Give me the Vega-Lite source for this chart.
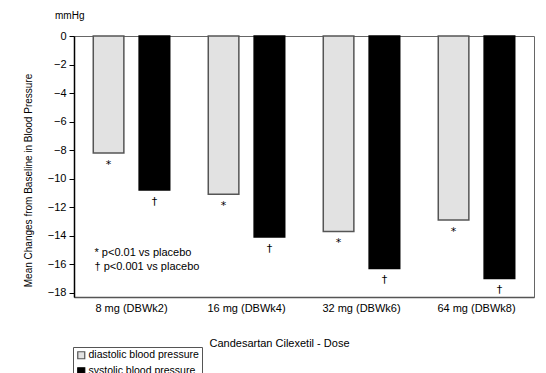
{
  "$schema": "https://vega.github.io/schema/vega-lite/v6.json",
  "width": 460,
  "height": 261,
  "autosize": {"type": "none"},
  "padding": {"left": 74, "top": 36, "right": 12, "bottom": 76},
  "background": "white",
  "config": {
    "font": "Liberation Sans",
    "view": {"stroke": "#666", "strokeWidth": 1}
  },
  "title": {
    "text": "mmHg",
    "anchor": "start",
    "frame": "group",
    "fontSize": 10,
    "fontWeight": "normal",
    "color": "#000",
    "dx": -19,
    "offset": 9
  },
  "datasets": {
    "bars": [
      {"dose": "8 mg (DBWk2)", "bp": "diastolic blood pressure", "value": -8.2, "sig": "*"},
      {"dose": "8 mg (DBWk2)", "bp": "systolic blood pressure", "value": -10.8, "sig": "†"},
      {"dose": "16 mg (DBWk4)", "bp": "diastolic blood pressure", "value": -11.1, "sig": "*"},
      {"dose": "16 mg (DBWk4)", "bp": "systolic blood pressure", "value": -14.1, "sig": "†"},
      {"dose": "32 mg (DBWk6)", "bp": "diastolic blood pressure", "value": -13.7, "sig": "*"},
      {"dose": "32 mg (DBWk6)", "bp": "systolic blood pressure", "value": -16.3, "sig": "†"},
      {"dose": "64 mg (DBWk8)", "bp": "diastolic blood pressure", "value": -12.9, "sig": "*"},
      {"dose": "64 mg (DBWk8)", "bp": "systolic blood pressure", "value": -17.0, "sig": "†"}
    ],
    "notes": [
      {"dose": "8 mg (DBWk2)", "value": -15.2, "note": "* p<0.01 vs placebo"},
      {"dose": "8 mg (DBWk2)", "value": -16.2, "note": "† p<0.001 vs placebo"}
    ]
  },
  "encoding": {
    "x": {
      "field": "dose", "type": "nominal", "sort": null,
      "scale": {"paddingInner": 0, "paddingOuter": 0},
      "axis": {
        "title": "Candesartan Cilexetil - Dose",
        "labelAngle": 0, "labelFontSize": 11, "labelColor": "#000",
        "labelPadding": 5, "ticks": false,
        "domainColor": "#555", "domainWidth": 1.5,
        "titleFontSize": 11, "titleFontWeight": "normal", "titleColor": "#000",
        "titlePadding": 24, "titleX": 205
      }
    },
    "y": {
      "field": "value", "type": "quantitative",
      "scale": {"domain": [-18.3, 0], "nice": false, "zero": false},
      "axis": {
        "title": "Mean Changes from Baseline in Blood Pressure",
        "values": [-18, -16, -14, -12, -10, -8, -6, -4, -2, 0],
        "labelOverlap": false,
        "grid": false, "labelFontSize": 11, "labelColor": "#000",
        "tickColor": "#000", "tickSize": 5, "labelPadding": 3,
        "domainColor": "#000", "domainWidth": 1.5,
        "titleFontSize": 10, "titleFontWeight": "normal", "titleColor": "#000",
        "titleX": -41, "titleY": 144
      }
    }
  },
  "layer": [
    {
      "data": {"name": "bars"},
      "mark": {"type": "bar", "strokeWidth": 1.5},
      "encoding": {
        "xOffset": {
          "field": "bp", "type": "nominal",
          "scale": {"paddingInner": 0.333, "paddingOuter": 0.42}
        },
        "color": {
          "field": "bp", "type": "nominal",
          "scale": {"domain": ["diastolic blood pressure", "systolic blood pressure"], "range": ["#e2e2e2", "#000000"]},
          "legend": {
            "title": null, "orient": "none", "legendX": -1, "legendY": 311,
            "direction": "vertical", "symbolType": "square", "symbolSize": 49,
            "labelFontSize": 10.5, "labelColor": "#000", "labelOffset": 2,
            "rowPadding": 3, "padding": 3, "strokeColor": "#555",
            "fillColor": "white", "symbolStrokeWidth": 1.2
          }
        },
        "stroke": {
          "field": "bp", "type": "nominal",
          "scale": {"domain": ["diastolic blood pressure", "systolic blood pressure"], "range": ["#555555", "#000000"]},
          "legend": null
        }
      }
    },
    {
      "data": {"name": "bars"},
      "mark": {"type": "text", "baseline": "top", "dy": 6, "fontSize": 11, "fill": "#000", "font": "DejaVu Sans"},
      "encoding": {
        "xOffset": {"field": "bp", "type": "nominal"},
        "text": {"field": "sig"}
      }
    },
    {
      "data": {"name": "notes"},
      "mark": {"type": "text", "align": "left", "baseline": "middle", "fontSize": 11, "fill": "#000", "xOffset": -37},
      "encoding": {
        "text": {"field": "note"}
      }
    }
  ]
}
